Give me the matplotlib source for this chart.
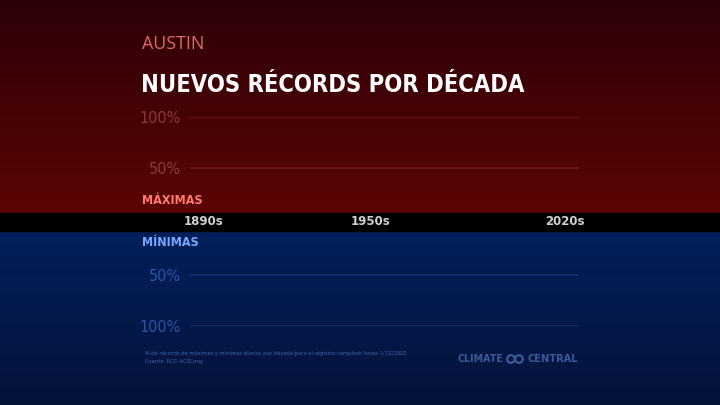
import numpy as np
import matplotlib.pyplot as plt
from matplotlib.colors import LinearSegmentedColormap
from matplotlib.patches import Circle

#%% data

decades = ['1890s', '1900s', '1910s', '1920s', '1930s', '1940s', '1950s',
           '1960s', '1970s', '1980s', '1990s', '2000s', '2010s', '2020s']
# % of daily records per decade (nothing shown in the reference)
max_pct = [0, 0, 0, 0, 0, 0, 0, 0, 0, 0, 0, 0, 0, 0]
min_pct = [0, 0, 0, 0, 0, 0, 0, 0, 0, 0, 0, 0, 0, 0]
shown_ticks = ['1890s', '1950s', '2020s']
grid_vals = [50, 100]

#%% figure

W, H = 720, 405
fig = plt.figure(figsize=(W / 100, H / 100), dpi=100)
renderer = fig.canvas.get_renderer()

def fx(x):
    return x / W

def fy(y):
    return 1 - y / H

def fit(t, width):
    # shrink/grow a text so it spans the given pixel width
    w = t.get_window_extent(renderer).width
    t.set_fontsize(t.get_fontsize() * width / w)

# background gradients
bg = fig.add_axes([0, 0, 1, 1])
bg.axis('off')
reds = LinearSegmentedColormap.from_list('r', ['#2c0007', '#5c0505'])
blues = LinearSegmentedColormap.from_list('b', ['#02205a', '#06123a'])
grad = np.linspace(0, 1, 256).reshape(-1, 1)
bg.imshow(grad, cmap=reds, extent=[0, W, 213, 0], aspect='auto')
bg.imshow(grad, cmap=blues, extent=[0, W, H, 231], aspect='auto')
bg.fill_between([0, W], 213, 231, color='black')
bg.set_xlim(0, W)
bg.set_ylim(H, 0)

cond = ['DejaVu Sans Condensed', 'DejaVu Sans']
x = np.arange(len(decades))

# upper axis: record highs
ax1 = fig.add_axes([fx(190), fy(219), fx(389), 102 / H])
ax1.bar(x, max_pct, width=0.8, color='#e0463c', linewidth=0)
ax1.set_ylim(0, 100)
# lower axis: record lows
ax2 = fig.add_axes([fx(190), fy(326), fx(389), 102 / H])
ax2.bar(x, min_pct, width=0.8, color='#3a7bd5', linewidth=0)
ax2.set_ylim(100, 0)

for ax, gcol, lcol in [(ax1, '#6a181c', '#8c3b3b'), (ax2, '#16306e', '#2c54a8')]:
    ax.set_xlim(-0.5, len(decades) - 0.5)
    ax.patch.set_alpha(0)
    for s in ax.spines.values():
        s.set_visible(False)
    ax.set_yticks(grid_vals)
    ax.set_yticklabels([f'{v}%' for v in grid_vals], color=lcol,
                       fontsize=11.5, family=cond, stretch='condensed')
    ax.tick_params(axis='y', length=0, pad=6.5)
    for v in grid_vals:
        ax.axhline(v, color=gcol, lw=1.2, zorder=0)

ax1.set_xticks([decades.index(d) for d in shown_ticks])
ax1.set_xticklabels(shown_ticks, color='#d0d0d0', fontsize=8.5,
                    fontweight='bold', family='DejaVu Sans')
ax1.tick_params(axis='x', length=0, pad=-3)
ax2.set_xticks([])

#%% texts

t = fig.text(fx(142), fy(44), 'AUSTIN', color='#e06a66', fontsize=12.5,
             family='Open Sans', va='center')
fit(t, 63)
t = fig.text(fx(141), fy(92), 'NUEVOS RÉCORDS POR DÉCADA', color='white',
             fontsize=26, fontweight='bold', family=cond, stretch='condensed',
             va='baseline')
fit(t, 385)
t = fig.text(fx(142), fy(201), 'MÁXIMAS', color='#ff7a72', fontsize=9,
             fontweight='bold', family=cond, stretch='condensed', va='center')
t = fig.text(fx(142), fy(242), 'MÍNIMAS', color='#7aa6ff', fontsize=9,
             fontweight='bold', family=cond, stretch='condensed', va='center')

t = fig.text(fx(145), fy(353), '% de récords de máximas y mínimas diarias por década '
             'para el registro completo hasta 1/12/2022', color='#4164a8',
             fontsize=4.2, family='Noto Sans', va='center')
fit(t, 262)
fig.text(fx(145), fy(361), 'Fuente: RCC-ACIS.org', color='#4164a8',
         fontsize=t.get_fontsize(), family='Noto Sans', va='center')

logo_col = '#3d5a96'
t = fig.text(fx(457), fy(359), 'CLIMATE', color=logo_col, fontsize=7,
             fontweight='bold', family='DejaVu Sans', va='center')
fit(t, 46)
t = fig.text(fx(527), fy(359), 'CENTRAL', color=logo_col, fontsize=7,
             fontweight='bold', family='DejaVu Sans', va='center')
fit(t, 51)
for cx in (511, 519):
    bg.add_patch(Circle((cx, 359), 3.8, fill=False, ec=logo_col, lw=1.6))

fig.savefig('out.png', dpi=100)
